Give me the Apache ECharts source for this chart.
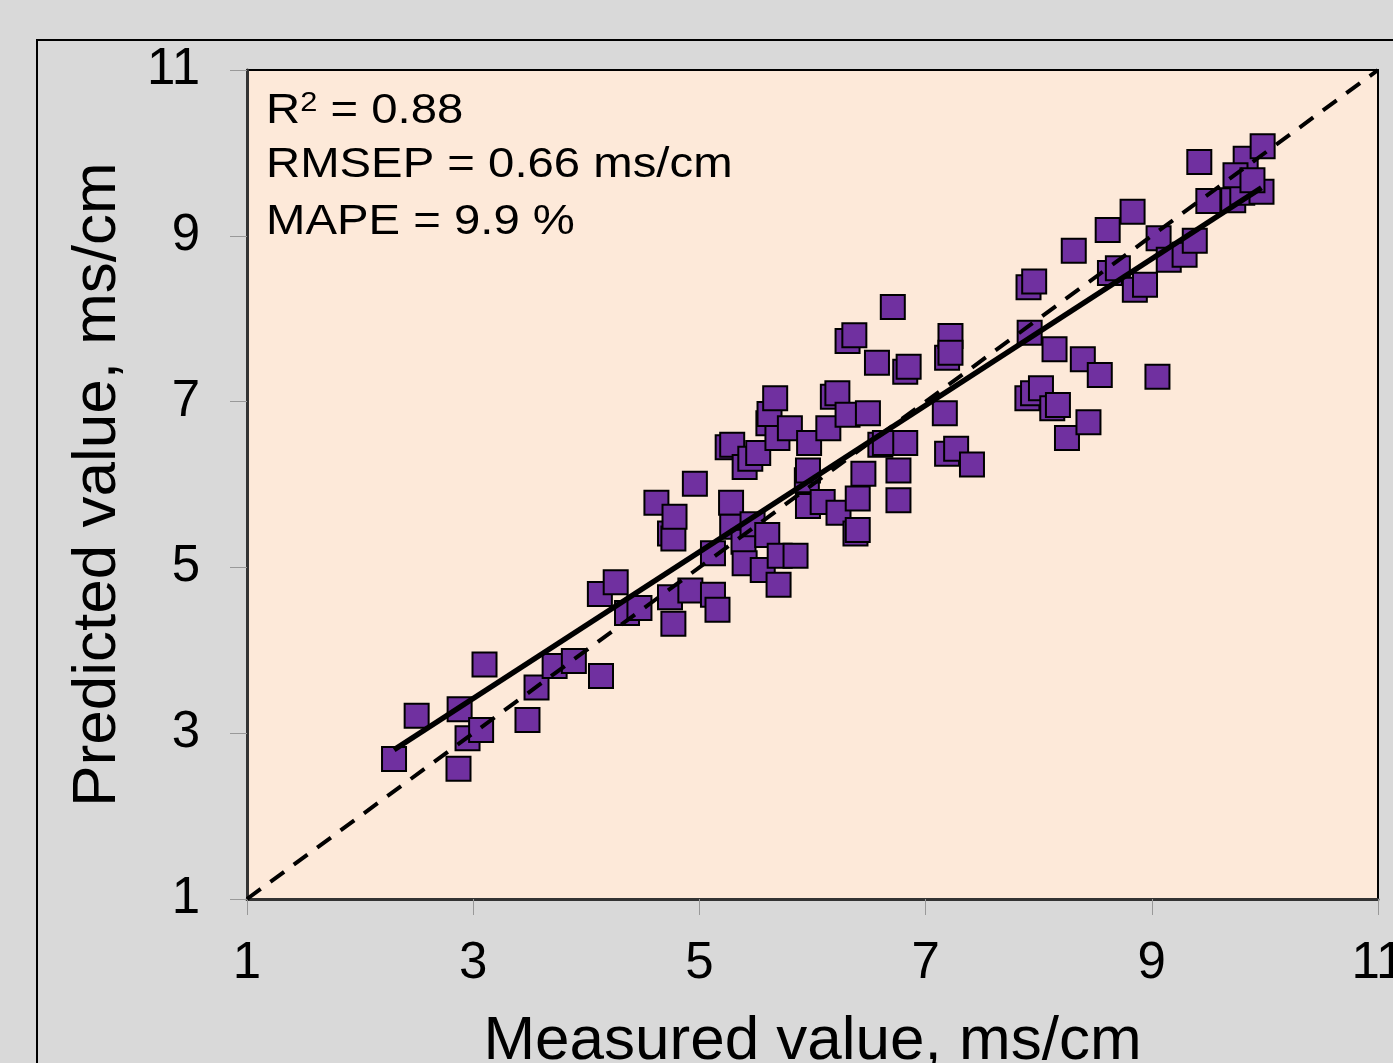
<!DOCTYPE html>
<html>
<head>
<meta charset="utf-8">
<script src="https://cdn.jsdelivr.net/npm/echarts@6/dist/echarts.min.js"></script>
<style>
html,body{margin:0;padding:0;background:#d9d9d9;}
#chart{width:1393px;height:1063px;}
</style>
</head>
<body>
<div id="chart"></div>
<script>
const measured = [2.30,2.50,2.87,2.88,2.95,3.07,3.10,3.48,3.56,3.72,3.89,4.13,4.12,4.26,4.36,4.47,4.62,4.74,4.77,4.74,4.77,4.78,4.92,4.96,5.12,5.12,5.16,5.25,5.29,5.28,5.29,5.39,5.40,5.40,5.45,5.52,5.47,5.56,5.60,5.61,5.62,5.67,5.69,5.70,5.71,5.80,5.85,5.96,5.95,5.96,5.97,6.09,6.14,6.18,6.22,6.23,6.31,6.37,6.31,6.38,6.40,6.40,6.45,6.49,6.57,6.60,6.64,6.71,6.76,6.76,6.82,6.82,6.85,7.17,7.19,7.27,7.19,7.22,7.22,7.41,7.91,7.96,7.92,7.90,7.95,8.02,8.12,8.17,8.14,8.25,8.31,8.39,8.44,8.54,8.61,8.63,8.70,8.83,8.85,8.94,9.05,9.06,9.15,9.29,9.38,9.42,9.50,9.72,9.80,9.97,9.83,9.98,9.74,9.89];
const predicted = [2.69,3.21,2.57,3.29,2.94,3.04,3.83,3.16,3.55,3.81,3.87,3.69,4.68,4.82,4.45,4.51,5.78,4.64,4.32,5.41,5.35,5.61,4.72,6.01,5.17,4.67,4.49,6.45,6.48,5.78,5.49,5.31,5.05,6.21,6.31,6.38,5.52,4.97,5.39,6.74,6.85,7.04,6.56,4.79,5.14,6.68,5.14,5.74,6.05,6.17,6.50,5.79,6.68,7.06,7.10,5.66,7.73,7.80,6.84,5.41,5.45,5.83,6.13,6.86,7.47,6.48,6.50,8.14,6.17,5.81,6.50,7.36,7.42,6.86,6.37,6.43,7.53,7.79,7.59,6.24,8.38,8.45,7.83,7.04,7.10,7.16,6.92,6.96,7.63,6.56,8.82,7.51,6.75,7.32,9.07,8.55,8.61,9.29,8.35,8.41,7.30,8.97,8.71,8.77,8.94,9.89,9.42,9.43,9.52,9.53,9.93,10.08,9.73,9.67];
const fitX = [2.30, 9.97];
const fitY = [2.80, 9.58];
const identityX = [1, 11];
const identityY = [1, 11];
const statR2 = '0.88';
const statRMSEP = '0.66 ms/cm';
const statMAPE = '9.9 %';
const xTitle = 'Measured value, ms/cm';
const yTitle = 'Predicted value, ms/cm';

const FONT = '"Liberation Sans", Arial, sans-serif';
const n = Math.min(measured.length, predicted.length);
const scatterData = [];
for (let i = 0; i < n; i++) scatterData.push([measured[i], predicted[i]]);

const statStyle = { fontFamily: FONT, fontSize: 43, fill: '#000', verticalAlign: 'middle', align: 'left' };

const chart = echarts.init(document.getElementById('chart'));
chart.setOption({
  backgroundColor: '#d9d9d9',
  animation: false,
  grid: {
    left: 247, top: 70, right: 15, bottom: 164,
    outerBoundsMode: 'none', containLabel: false,
    show: true, backgroundColor: '#fde9d9', borderColor: '#000', borderWidth: 2
  },
  xAxis: {
    type: 'value', min: 1, max: 11, interval: 2,
    name: xTitle, nameLocation: 'middle', nameGap: 112,
    nameTextStyle: { fontFamily: FONT, fontSize: 62, color: '#000' },
    axisLine: { show: true, lineStyle: { color: '#333', width: 3 } },
    axisTick: { show: true, length: 16, lineStyle: { color: '#999', width: 1 } },
    axisLabel: { fontFamily: FONT, fontSize: 51, color: '#000', margin: 39 },
    splitLine: { show: false }
  },
  yAxis: {
    type: 'value', min: 1, max: 11, interval: 2,
    name: yTitle, nameLocation: 'middle', nameGap: 118, nameRotate: 90,
    nameTextStyle: { fontFamily: FONT, fontSize: 62, color: '#000' },
    axisLine: { show: true, lineStyle: { color: '#333', width: 3 } },
    axisTick: { show: true, length: 17, lineStyle: { color: '#999', width: 1 } },
    axisLabel: { fontFamily: FONT, fontSize: 51, color: '#000', margin: 47 },
    splitLine: { show: false }
  },
  graphic: [
    { type: 'rect', left: 36, top: 39, z: -1, silent: true,
      shape: { width: 1400, height: 1100 },
      style: { fill: 'transparent', stroke: '#000', lineWidth: 2 } },
    { type: 'text', x: 266, y: 111, scaleX: 1.1, z: 100,
      style: { text: '{a|R}{s|2}{a| = ' + statR2 + '}', verticalAlign: 'middle', align: 'left',
        rich: { a: { fontFamily: FONT, fontSize: 43, fill: '#000' },
                s: { fontFamily: FONT, fontSize: 28, fill: '#000', verticalAlign: 'top' } } } },
    { type: 'text', x: 266, y: 165, scaleX: 1.1, z: 100,
      style: Object.assign({ text: 'RMSEP = ' + statRMSEP }, statStyle) },
    { type: 'text', x: 266, y: 222, scaleX: 1.1, z: 100,
      style: Object.assign({ text: 'MAPE = ' + statMAPE }, statStyle) }
  ],
  series: [
    { type: 'scatter', data: scatterData, symbol: 'rect', symbolSize: 24,
      itemStyle: { color: '#7030a0', borderColor: '#000', borderWidth: 2, opacity: 1 } },
    { type: 'line', data: identityX.map((v, i) => [v, identityY[i]]), symbol: 'none',
      lineStyle: { color: '#000', width: 4, type: [17, 12] }, z: 3 },
    { type: 'line', data: fitX.map((v, i) => [v, fitY[i]]), symbol: 'none',
      lineStyle: { color: '#000', width: 5.5 }, z: 4 }
  ]
});
</script>
</body>
</html>
